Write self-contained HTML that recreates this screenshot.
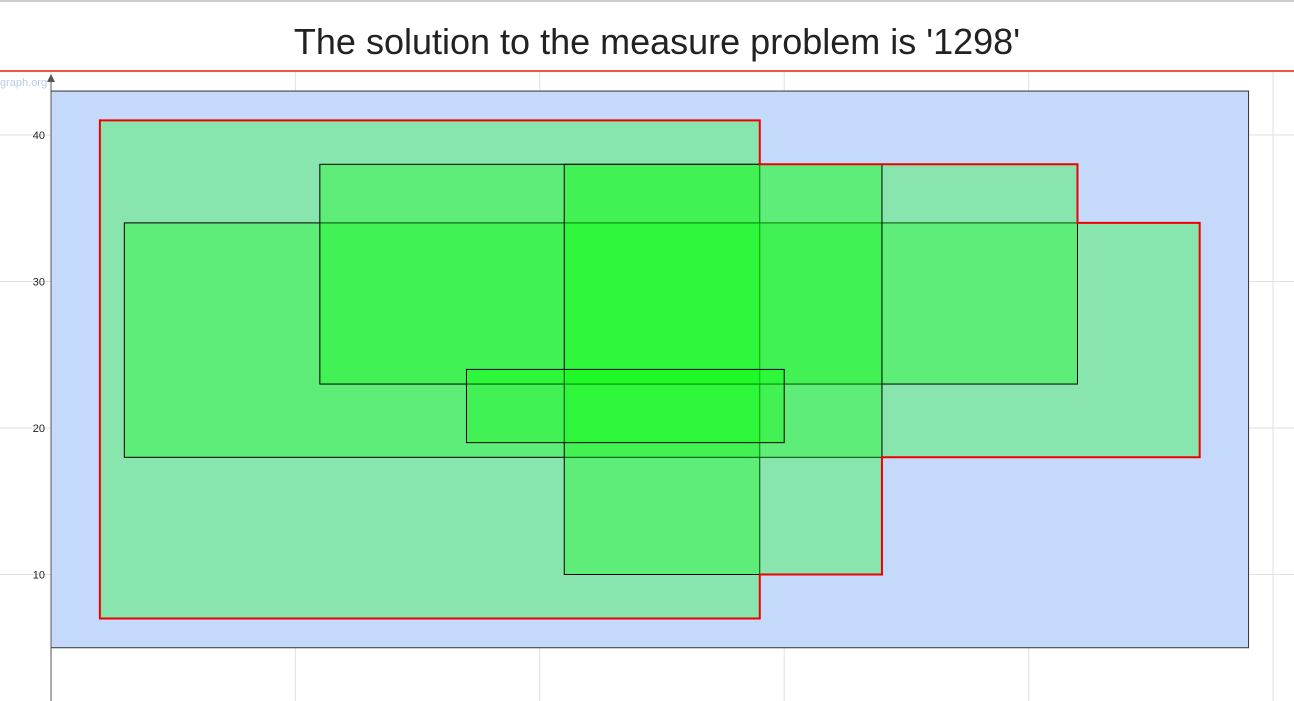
<!DOCTYPE html>
<html><head><meta charset="utf-8"><style>
body{margin:0;background:#fff;width:1294px;height:701px;overflow:hidden;font-family:"Liberation Sans",sans-serif}
</style></head><body>
<svg id="c" width="1294" height="701" style="position:absolute;left:0;top:0">
<line x1="0" y1="1" x2="1294" y2="1" stroke="#ccc" stroke-width="2"/>
<text x="657" y="54" font-size="36" text-anchor="middle" fill="#222">The solution to the measure problem is '1298'</text>
<line x1="0" y1="71" x2="1294" y2="71" stroke="#f05a40" stroke-width="2"/>
<text x="0" y="86" font-size="11" fill="#b8cde6">graph.org</text>
<g id="grid"></g><g id="rects"></g><g id="axis"></g>
</svg>
<script>
const xTicks=[0,10,20,30,40,50];
const yTicks=[10,20,30,40];
const bounds=[0,49,5,43];
const rectX0=[2,3,11,21,17];
const rectX1=[29,47,42,34,30];
const rectY0=[7,18,23,10,19];
const rectY1=[41,34,38,38,24];
const unionX=[2,29,29,34,34,47,47,42,42,29,29,2];
const unionY=[7,7,10,10,18,18,34,34,38,38,41,41];
const X=v=>51+v*24.44, Y=v=>721-v*14.65;
const NS='http://www.w3.org/2000/svg';
function mk(p,t,a){const e=document.createElementNS(NS,t);for(const k in a)e.setAttribute(k,a[k]);p.appendChild(e);return e;}
const g=document.getElementById('grid'),r=document.getElementById('rects'),ax=document.getElementById('axis');
xTicks.forEach(v=>{const l=mk(g,'line',{x1:X(v),x2:X(v),y1:72,y2:701,stroke:'#e2e2e2'});

});
yTicks.forEach(v=>{const l=mk(g,'line',{x1:0,x2:1294,y1:Y(v),y2:Y(v),stroke:'#e2e2e2'});


const t=mk(ax,'text',{x:45,y:Y(v)+4,'font-size':11,'text-anchor':'end',fill:'#222'});t.textContent=v;

});
const b=mk(r,'rect',{x:X(bounds[0]),y:Y(bounds[3]),width:X(bounds[1])-X(bounds[0]),height:Y(bounds[2])-Y(bounds[3]),fill:'#c5dafa',stroke:'#333'});


rectX0.forEach((x0,i)=>{const e=mk(r,'rect',{x:X(x0),y:Y(rectY1[i]),width:X(rectX1[i])-X(x0),height:Y(rectY0[i])-Y(rectY1[i]),fill:'rgba(0,255,0,0.3)',stroke:'#000','stroke-width':1});

});
const u=mk(r,'polygon',{points:unionX.map((x,i)=>X(x)+','+Y(unionY[i])).join(' '),fill:'none',stroke:'#e00','stroke-width':2});


const a=mk(ax,'line',{x1:51,x2:51,y1:80,y2:701,stroke:'#555'});


const ar=mk(ax,'polygon',{points:'47,82 51,74 55,82',fill:'#555'});


</script>
</body></html>
